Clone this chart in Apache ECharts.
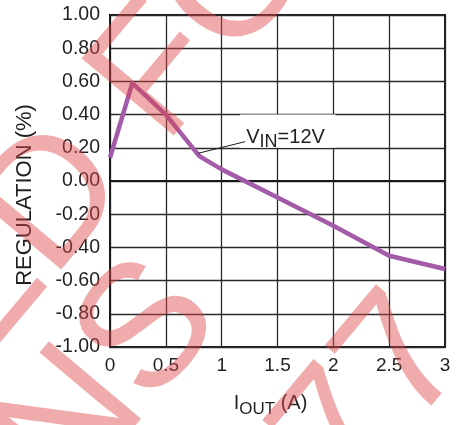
<!DOCTYPE html>
<html><head><meta charset="utf-8">
<script src="https://cdn.jsdelivr.net/npm/echarts@6/dist/echarts.min.js"></script>
<style>html,body{margin:0;padding:0;background:#fff}#c{width:461px;height:425px}</style>
</head><body><div id="c"></div>
<script>
// ---- data ----
const currentA = [0, 0.2, 0.5, 0.8, 1.0, 1.5, 2.0, 2.5, 3.0];
const regulationPct = [0.14, 0.59, 0.40, 0.15, 0.07, -0.10, -0.27, -0.45, -0.53];
const xRange = [0, 3];
const xStep = 0.5;
const yRange = [-1, 1];
const yStep = 0.2;
const seriesName = 'VIN=12V';
// annotation anchors in data space
const leaderFrom = [0.79, 0.167];
const leaderTo = [1.21, 0.237];
const labelBoxFrom = [1.165, 0.40];
const labelBoxTo = [2.02, 0.20];
const labelAt = [1.22, 0.192];
const watermarkLines = ['NOT RECOMMENDED FOR', 'NEW DESIGNS', '77'];

const FONT = '"Liberation Sans", Arial, sans-serif';
const chart = echarts.init(document.getElementById('c'), null, {renderer: 'canvas'});

const option = {
  animation: false,
  backgroundColor: '#fff',
  grid: {left: 110, right: 16, top: 15, bottom: 78, show: true, borderColor: '#1a1a1a', borderWidth: 2, backgroundColor: 'transparent'},
  xAxis: {
    type: 'value', min: xRange[0], max: xRange[1], interval: xStep,
    name: '{a|I}{s|OUT}{a| (A)}', nameLocation: 'middle', nameGap: 46,
    nameTextStyle: {padding: [0, 14, 0, 0], rich: {
      a: {fontFamily: FONT, fontSize: 20, color: '#231f20', verticalAlign: 'top', lineHeight: 22},
      s: {fontFamily: FONT, fontSize: 17, color: '#231f20', verticalAlign: 'top', lineHeight: 22, padding: [8, 0, 0, 0]}
    }},
    axisLine: {show: true, lineStyle: {color: '#1a1a1a', width: 2}},
    axisTick: {show: false},
    axisLabel: {fontFamily: FONT, fontSize: 19, color: '#231f20', margin: 9},
    splitLine: {show: true, lineStyle: {color: '#2a2a2a', width: 1.3}}
  },
  yAxis: {
    type: 'value', min: yRange[0], max: yRange[1], interval: yStep,
    name: 'REGULATION (%)', nameLocation: 'middle', nameGap: 74, nameRotate: 90,
    nameTextStyle: {fontFamily: FONT, fontSize: 22, color: '#231f20', padding: [0, 28, 0, 0]},
    axisLine: {show: true, lineStyle: {color: '#1a1a1a', width: 2}},
    axisTick: {show: false},
    axisLabel: {fontFamily: FONT, fontSize: 19.5, color: '#231f20', margin: 10,
      formatter: v => v.toFixed(2)},
    splitLine: {show: true, lineStyle: {color: '#2a2a2a', width: 1.3}}
  },
  series: [{
    name: seriesName, type: 'line',
    data: currentA.map((x, i) => [x, regulationPct[i]]),
    symbol: 'none', smooth: false,
    lineStyle: {color: '#a25aa9', width: 4.5, join: 'round'},
    z: 3
  }]
};
chart.setOption(option);

function px(p) { return chart.convertToPixel({gridIndex: 0}, p); }
const b0 = px(labelBoxFrom), b1 = px(labelBoxTo);
const l0 = px(leaderFrom), l1 = px(leaderTo);
const t0 = px(labelAt);

// watermark geometry (decoration only)
const ang = 50 * Math.PI / 180;
const nrm = [Math.sin(ang), Math.cos(ang)];
const dir = [Math.cos(ang), -Math.sin(ang)];
function wpos(n, t) { return [n * nrm[0] + t * dir[0], n * nrm[1] + t * dir[1]]; }
const wm = [
  {text: watermarkLines[0], n: 172, t: 363, align: 'right'},
  {text: watermarkLines[1], n: 329, t: -99, align: 'right'},
  {text: watermarkLines[2], n: 543, t: -162, align: 'left'}
];

chart.setOption({
  graphic: [
    {type: 'rect', shape: {x: b0[0], y: b0[1], width: b1[0] - b0[0], height: b1[1] - b0[1]},
     style: {fill: '#fff'}, z: 10},
    {type: 'line', shape: {x1: l0[0], y1: l0[1], x2: l1[0], y2: l1[1]},
     style: {stroke: '#1a1a1a', lineWidth: 1}, z: 11},
    {type: 'text', x: t0[0], y: t0[1], z: 12,
     style: {text: '{v|V}{s|IN}{v|=12V}', textVerticalAlign: 'bottom', textAlign: 'left',
       rich: {
         v: {fontFamily: FONT, fontSize: 20, fill: '#231f20', verticalAlign: 'top', lineHeight: 22},
         s: {fontFamily: FONT, fontSize: 18, fill: '#231f20', verticalAlign: 'top', lineHeight: 22, padding: [6, 0, 0, 0]}
       }}}
  ].concat(wm.map(w => {
    const p = wpos(w.n, w.t);
    return {type: 'text', x: p[0], y: p[1], rotation: ang, z: 100, silent: true,
      style: {text: w.text, font: '175px ' + FONT, fill: 'rgba(222,70,70,0.45)',
        textAlign: w.align, textVerticalAlign: 'middle'}};
  }))
});
</script>
</body></html>
